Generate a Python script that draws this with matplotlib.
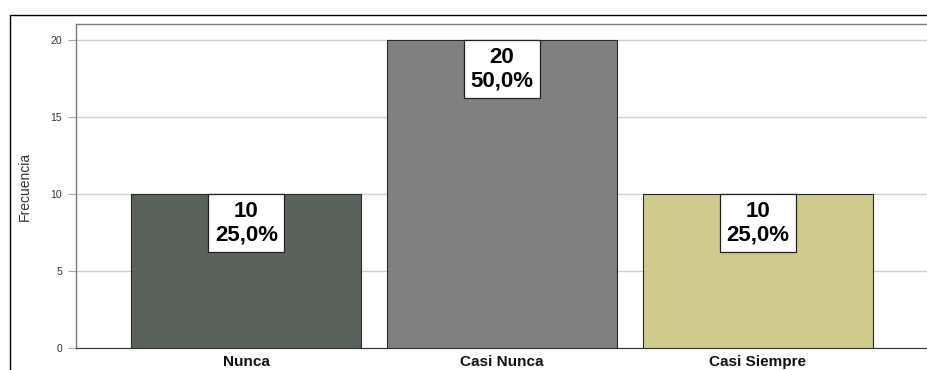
import matplotlib
matplotlib.use("Agg")
import matplotlib.pyplot as plt
from matplotlib.patches import Rectangle

categories = ["Nunca", "Casi Nunca", "Casi Siempre"]
counts = [10, 20, 10]
percents = ["25,0%", "50,0%", "25,0%"]
colors = ["#5a635b", "#808080", "#d0ca8f"]
yticks = [0, 5, 10, 15, 20]

plt.rcParams['font.family'] = ['Liberation Sans', 'DejaVu Sans']

fig = plt.figure(figsize=(9.28, 3.70), dpi=100)
ax = fig.add_axes([76/928, 22/370, (929-76)/928, (348-24)/370])

x = list(range(len(categories)))
ax.bar(x, counts, width=0.9, color=colors, edgecolor="#2a2a2a", linewidth=0.8, zorder=3)
ax.set_xlim(-0.666, 2.670)
ax.set_ylim(0, 21.04)
ax.set_yticks(yticks)
ax.set_yticklabels([str(t) for t in yticks], fontsize=7.5, color="#333333")
ax.yaxis.grid(True, color="#cfcfcf", linewidth=1.0, zorder=0)
ax.set_axisbelow(True)
ax.tick_params(axis='y', length=6, color="#aaaaaa", pad=4)
ax.set_xticks(x)
ax.set_xticklabels(categories, fontsize=11, fontweight='bold', color="#111111")
ax.tick_params(axis='x', length=0, pad=5)
for s in ["top", "left"]:
    ax.spines[s].set_color("#7a7a7a")
    ax.spines[s].set_linewidth(1.0)
ax.spines["right"].set_visible(False)
ax.spines["bottom"].set_color("#333333")
ax.set_ylabel("Frecuencia", fontsize=10, color="#333333",
              family=['Liberation Sans Narrow', 'Liberation Sans', 'DejaVu Sans'])
ax.yaxis.set_label_coords(-0.052, 0.5)

for xi, c, p in zip(x, counts, percents):
    ax.annotate(f"{c}\n{p}", xy=(xi, c), xytext=(0, -5.0), textcoords="offset points",
                ha="center", va="top", fontsize=16, fontweight="bold", linespacing=1.15,
                bbox=dict(boxstyle="square,pad=0.3", facecolor="white", edgecolor="#222222", linewidth=0.9),
                zorder=5)

fig.patches.append(Rectangle((10/928, -0.1), 1.0, (370-15)/370 + 0.1, transform=fig.transFigure,
                             fill=False, edgecolor="black", linewidth=1.0, zorder=10))

fig.savefig("out.png", dpi=100)
